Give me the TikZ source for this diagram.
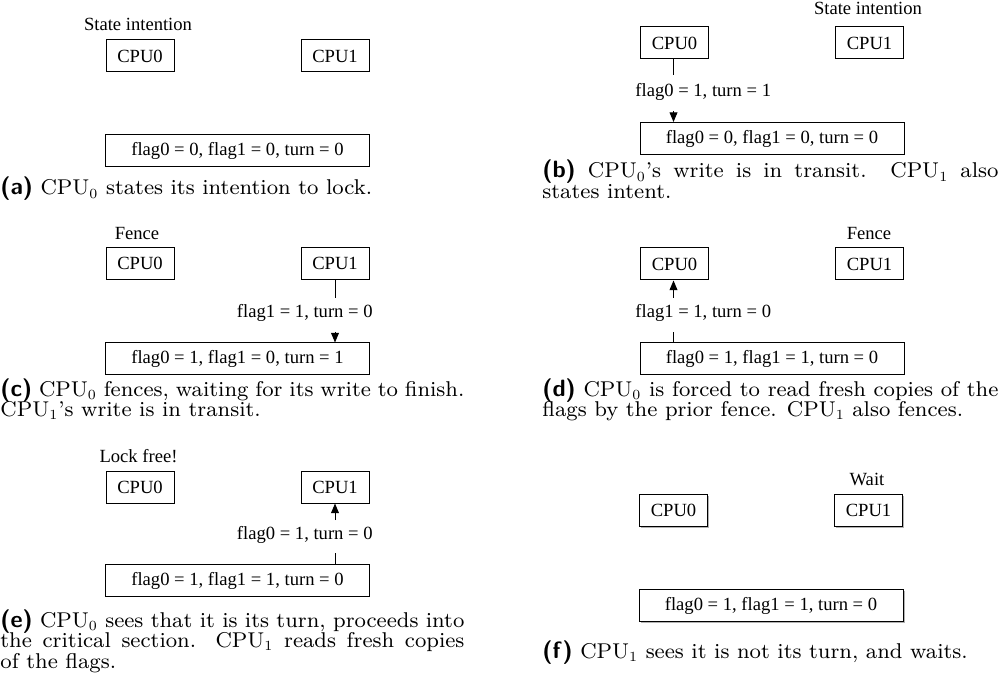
\documentclass[tikz,border=0pt]{standalone}
\usepackage{fontspec}
\newfontfamily\diagfont{Liberation Serif}
\newfontfamily\capfont{lmroman8-regular.otf}
\usetikzlibrary{arrows.meta,shadows}
\newcommand\subcap[3]{\parbox[t]{#1}{\fontsize{10.7pt}{10.3pt}\selectfont\capfont\lineskiplimit=-20pt\lineskip=0pt\tolerance=9999\hbadness=10000{\fontsize{11.8pt}{10.3pt}\selectfont\sffamily\bfseries(#2)} #3}}
\tikzset{
  cpu/.style={draw, line width=0.5pt, fill=white, minimum width=34pt, minimum height=16pt, inner sep=0pt, font=\diagfont\fontsize{9.3pt}{11pt}\selectfont},
  mem/.style={cpu, minimum width=132pt},
  note/.style={inner sep=0pt, font=\diagfont\fontsize{9.3pt}{11pt}\selectfont},
  wire/.style={line width=0.5pt},
  arr/.style={wire, -{Triangle[length=4.8pt,width=3.9pt]}},
  capnode/.style={anchor=base west, inner sep=0pt},
  shad/.style={drop shadow={shadow xshift=0.8pt, shadow yshift=-0.8pt, opacity=0.3, fill=black}}
}
\begin{document}
\begin{tikzpicture}[x=0.5pt,y=-0.5pt]
\useasboundingbox (0,0) rectangle (1002,684);
% ---------- (a)
\node[cpu] (a0) at (140,56) {CPU0};
\node[cpu] (a1) at (335,56) {CPU1};
\node[mem] (am) at (237.5,151) {flag0 = 0, flag1 = 0, turn = 0};
\node[note, anchor=base] (an) at (138,31) {State intention};
\node[capnode] (ac) at (0,195) {\subcap{232pt}{a}{CPU$_0$ states its intention to lock.}};
% ---------- (b)
\node[cpu] (b0) at (674.5,43) {CPU0};
\node[cpu] (b1) at (869.5,43) {CPU1};
\node[mem] (bm) at (772,138.5) {flag0 = 0, flag1 = 0, turn = 0};
\node[note, anchor=base] (bn) at (868,15) {State intention};
\node[note, anchor=base west] (bl) at (635,97) {flag0 = 1, turn = 1};
\coordinate (bt) at (673.5,75);
\coordinate (bs) at (673.5,111);
\draw[wire] (b0.south -| bt) -- (bt);
\draw[arr] (bs) -- (bs |- bm.north);
\node[capnode] (bc) at (542,178) {\subcap{228pt}{b}{CPU$_0$’s write is in transit. CPU$_1$ also\linebreak states intent.}};
% ---------- (c)
\node[cpu] (c0) at (140,263.5) {CPU0};
\node[cpu] (c1) at (335,263.5) {CPU1};
\node[mem] (cm) at (237.5,359) {flag0 = 1, flag1 = 0, turn = 1};
\node[note, anchor=base] (cn) at (137,240) {Fence};
\node[note, anchor=base east] (cl) at (373,318) {flag1 = 1, turn = 0};
\coordinate (ct) at (335,298);
\coordinate (cs) at (335,332);
\draw[wire] (c1.south) -- (ct);
\draw[arr] (cs) -- (cs |- cm.north);
\node[capnode] (cc) at (0,396) {\subcap{232pt}{c}{CPU$_0$ fences, waiting for its write to finish.\linebreak CPU$_1$’s write is in transit.}};
% ---------- (d)
\node[cpu] (d0) at (674.5,264) {CPU0};
\node[cpu] (d1) at (869.5,264) {CPU1};
\node[mem] (dm) at (772,359) {flag0 = 1, flag1 = 1, turn = 0};
\node[note, anchor=base] (dn) at (869,240) {Fence};
\node[note, anchor=base west] (dl) at (635,318) {flag1 = 1, turn = 0};
\coordinate (dt) at (673.5,298);
\coordinate (ds) at (673.5,332);
\draw[arr] (dt) -- (dt |- d0.south);
\draw[wire] (ds |- dm.north) -- (ds);
\node[capnode] (dc) at (542,396) {\subcap{228pt}{d}{CPU$_0$ is forced to read fresh copies of the\linebreak flags by the prior fence. CPU$_1$ also fences.}};
% ---------- (e)
\node[cpu] (e0) at (140,487) {CPU0};
\node[cpu] (e1) at (335,487) {CPU1};
\node[mem] (em) at (237.5,580.5) {flag0 = 1, flag1 = 1, turn = 0};
\node[note, anchor=base] (en) at (138.5,462.7) {Lock free!};
\node[note, anchor=base east] (el) at (373,539) {flag0 = 1, turn = 0};
\coordinate (et) at (335,520);
\coordinate (es) at (335,553);
\draw[arr] (et) -- (e1.south);
\draw[wire] (em.north -| es) -- (es);
\node[capnode] (ec) at (0,627) {\subcap{232pt}{e}{CPU$_0$ sees that it is its turn, proceeds into\linebreak the critical section. CPU$_1$ reads fresh copies\linebreak of the flags.}};
% ---------- (f)
\node[cpu, shad] (f0) at (673.5,510) {CPU0};
\node[cpu, shad] (f1) at (868.5,510) {CPU1};
\node[mem, shad] (fm) at (771,605.5) {flag0 = 1, flag1 = 1, turn = 0};
\node[note, anchor=base] (fn) at (867,485.7) {Wait};
\node[capnode] (fc) at (542,658) {\subcap{228pt}{f}{CPU$_1$ sees it is not its turn, and waits.}};
\end{tikzpicture}
\end{document}
